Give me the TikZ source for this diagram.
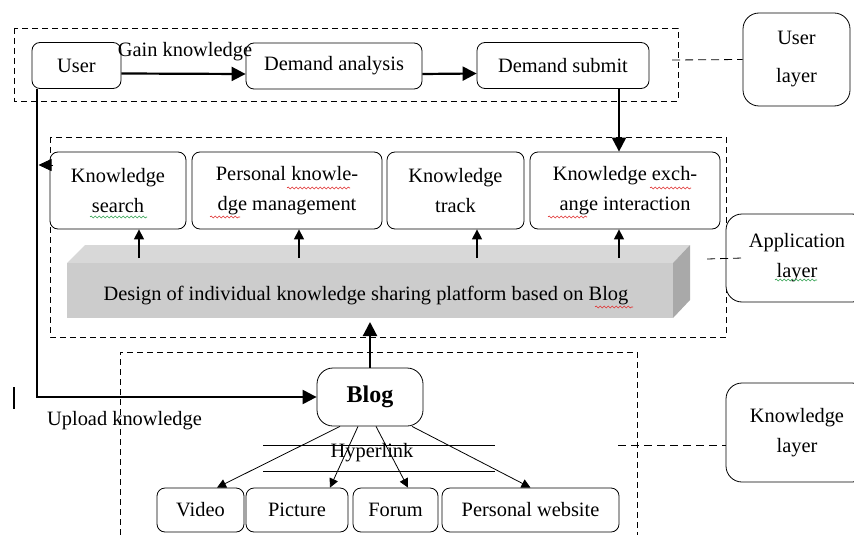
\documentclass[tikz,border=0pt]{standalone}
\usepackage{fontspec}
\setmainfont{Liberation Serif}
\usetikzlibrary{arrows.meta,decorations.pathmorphing}

\definecolor{barfront}{HTML}{CCCCCC}
\definecolor{bartop}{HTML}{D8D8D8}
\definecolor{barside}{HTML}{A9A9A9}
\definecolor{typo}{HTML}{E03030}
\definecolor{gram}{HTML}{2FA04F}

\begin{document}
\begin{tikzpicture}[x=0.5pt,y=-0.5pt,
    font=\fontsize{10.2}{15}\selectfont,
    box/.style={draw,rounded corners=4pt,fill=white,align=center,inner sep=0pt},
    layerbox/.style={box,rounded corners=8pt},
    zone/.style={draw,dash pattern=on 3pt off 2pt},
    link/.style={dash pattern=on 4pt off 2.5pt},
    flow/.style={line width=1.1pt,-{Triangle[length=7pt,width=7pt]}},
    up/.style={line width=0.7pt,-{Triangle[length=5pt,width=5pt]}},
    hyper/.style={line width=0.4pt,-{Triangle[length=4.5pt,width=4.5pt]}},
    squiggle/.style={line width=0.3pt,decorate,
      decoration={snake,segment length=2pt,amplitude=0.5pt}}]

  \useasboundingbox (0,0) rectangle (854,534);

  % the three layer frames
  \draw[zone] (14,28) rectangle (678,101);
  \draw[zone] (50,137) rectangle (726,337);
  \draw[zone] (120,545) -- (120,352) -- (637,352) -- (637,545);

  % user layer
  \node[box,minimum width=44.5pt,minimum height=23pt] (user) at (76.5,65.5) {User};
  \node[box,minimum width=88pt,minimum height=23pt] (demana) at (334,66) {Demand analysis};
  \node[box,minimum width=86pt,minimum height=23pt] (demsub) at (563,65.5) {Demand submit};
  \node at (185,52) {Gain knowledge};
  \draw[flow] ([yshift=-4pt]user.east) -- ([yshift=-4pt]demana.west);
  \draw[flow] ([yshift=-4pt]demana.east) -- ([yshift=-4pt]demsub.west);

  % application layer
  \node[box,minimum width=68pt,minimum height=38.5pt] (ksearch) at (118,190.5) {Knowledge\\search};
  \node[box,minimum width=95pt,minimum height=38.5pt] (kmanage) at (287,190.5) {Personal knowle-\\dge management};
  \node[box,minimum width=68.5pt,minimum height=38.5pt] (ktrack) at (455.5,190.5) {Knowledge\\track};
  \node[box,minimum width=95pt,minimum height=38.5pt] (kexch) at (625,190.5) {Knowledge exch-\\ange interaction};

  % platform bar
  \fill[bartop] (67,263) -- (85,245) -- (690,245) -- (673,263) -- cycle;
  \fill[barside] (673,263) -- (690,245) -- (690,300) -- (673,318) -- cycle;
  \fill[barfront] (67,263) rectangle (673,318);
  \node (design) at (366,296) {Design of individual knowledge sharing platform based on Blog};
  \foreach \x/\k in {139/ksearch,299/kmanage,477/ktrack,619/kexch}
    \draw[up] (\x,258) -- (\x,258 |- \k.south);

  \coordinate (subout) at ([xshift=28pt]demsub.south);
  \draw[flow] (subout) -- (subout |- kexch.north);

  % knowledge layer
  \node[box,rounded corners=8pt,minimum width=53pt,minimum height=29pt,
    font=\fontsize{12}{14}\selectfont\bfseries] (blog) at (370,397) {Blog};
  \node[box,minimum width=43.5pt,minimum height=22pt] (video) at (200.5,510) {Video};
  \node[box,minimum width=51pt,minimum height=22pt] (picture) at (297,510) {Picture};
  \node[box,minimum width=42.5pt,minimum height=22pt] (forum) at (395.5,510) {Forum};
  \node[box,minimum width=88.5pt,minimum height=22pt] (website) at (530.5,510) {Personal website};

  \node (hyper) at (372,453) {Hyperlink};
  \draw[line width=0.4pt] (263,445) -- (495,445) (263,471) -- (495,471);
  \foreach \a/\t/\b in {-15/video/8.25,-6/picture/16.5,3/forum/6.25,21/website/0}
    \draw[hyper] ([xshift=\a pt]blog.south) -- ([xshift=\b pt]\t.north);

  \draw[flow] (blog.north) -- (blog.north |- 0,322);
  \draw[flow] ([xshift=2.5pt]user.south west) |- (blog.west);
  \coordinate (upin) at (53,165);
  \draw[-{Triangle[length=6.5pt,width=6pt]}] (upin) -- (38.5,165);
  \node at (124.5,421) {Upload knowledge};
  \draw[line width=1.3pt] (14,387) -- (14,409);

  % layer labels on the right
  \node[layerbox,minimum width=53.5pt,minimum height=46.5pt] (userlayer) at (796.5,59.5) {User\\[4pt]layer};
  \node[layerbox,minimum width=71pt,minimum height=44pt] (applayer) at (797,258) {Application\\layer};
  \node[layerbox,minimum width=71pt,minimum height=49.5pt] (klayer) at (797,432.5) {Knowledge\\layer};
  \draw[link] (672,60) -- (userlayer.west);
  \draw[link] (707,259) -- ([xshift=8.5pt]applayer.west);
  \draw[link] (618,445) -- (klayer.west |- 0,445);

  % spelling marks
  \draw[squiggle,gram] (90,217) -- (147,217);
  \draw[squiggle,typo] (287,188) -- (350,188);
  \draw[squiggle,typo] (210,217) -- (240,217);
  \draw[squiggle,typo] (650,188) -- (691,188);
  \draw[squiggle,typo] (548,217) -- (587,217);
  \draw[squiggle,typo] (595,307) -- (633,307);
  \draw[squiggle,gram] (775,280) -- (817,280);
\end{tikzpicture}
\end{document}
